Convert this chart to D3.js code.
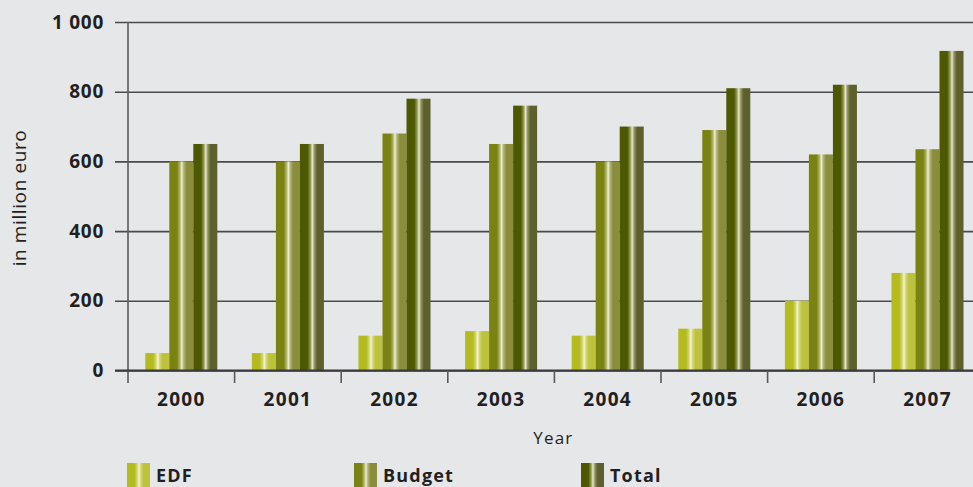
<!DOCTYPE html>
<html><head><meta charset="utf-8">
<script src="https://cdn.jsdelivr.net/npm/d3@7"></script>
<style>
html,body{margin:0;padding:0;background:#e6e7e9;}
svg{display:block;}
text{font-family:"Open Sans",sans-serif;fill:#231f20;}
</style></head><body>
<svg id="chart" width="973" height="487"></svg>
<script>
const categories = ["2000","2001","2002","2003","2004","2005","2006","2007"];
const seriesNames = ["EDF","Budget","Total"];
const edfValues = [50, 50, 100, 113, 100, 120, 200, 280];
const budgetValues = [600, 600, 680, 650, 600, 690, 620, 635];
const totalValues = [650, 650, 780, 760, 700, 810, 820, 917];
const yTicks = [0, 200, 400, 600, 800, 1000];
const yTickLabels = ["0", "200", "400", "600", "800", "1 000"];
const seriesColors = {
  EDF:    {base:"#b3bb1e", right:"#bcc23c", hi:"#f6f3cf"},
  Budget: {base:"#7a8212", right:"#8a8d3c", hi:"#efeed2"},
  Total:  {base:"#4d5800", right:"#5d602c", hi:"#e9e8c8"}
};

const valuesBySeries = {EDF: edfValues, Budget: budgetValues, Total: totalValues};
const data = categories.map((c,i)=>({cat:c, vals: seriesNames.map(s=>({s, v: valuesBySeries[s][i]}))}));

const svg = d3.select("#chart");
const x0 = 128, step = 106.6;
const y = d3.scaleLinear().domain([0,1000]).range([370.5, 22]);
const x = d3.scaleBand().domain(categories).range([x0, x0 + step*categories.length]).paddingInner(0).paddingOuter(0);
const x1 = d3.scaleBand().domain(seriesNames).range([0, x.bandwidth()]).paddingInner(0).paddingOuter(0.72);

// gradients
const defs = svg.append("defs");
seriesNames.forEach(s=>{
  const c = seriesColors[s];
  const g = defs.append("linearGradient").attr("id","g-"+s).attr("x1","0").attr("x2","1").attr("y1","0").attr("y2","0");
  const stops = [
    [0, c.base],[0.32, c.base],
    [0.44, d3.interpolateRgb(c.base, c.hi)(0.45)],
    [0.52, c.hi],
    [0.6, d3.interpolateRgb(c.right, c.hi)(0.4)],
    [0.72, c.right],[1, c.right]
  ];
  stops.forEach(([o,col])=>g.append("stop").attr("offset",o).attr("stop-color",col));
});

// y axis with gridlines
const yAxis = d3.axisLeft(y).tickValues(yTicks).tickSize(0).tickPadding(24)
  .tickFormat((d,i)=>yTickLabels[i]);
const yg = svg.append("g").attr("transform",`translate(${x0},0)`).call(yAxis);
yg.select(".domain").remove();
yg.selectAll(".tick line").attr("x1",-13).attr("x2",973-x0).attr("stroke","#4a4a4c").attr("stroke-width",1.6);
yg.selectAll(".tick text").attr("font-size",19).attr("font-weight",700).attr("fill","#231f20")
  .attr("font-family","'Open Sans',sans-serif").style("letter-spacing","0.7px");

// vertical y axis line
svg.append("line").attr("x1",x0).attr("x2",x0).attr("y1",y(1000)).attr("y2",383)
  .attr("stroke","#5a5a5c").attr("stroke-width",1.6);

// bars
const groups = svg.append("g").selectAll("g").data(data).join("g")
  .attr("transform",d=>`translate(${x(d.cat)},0)`);
groups.selectAll("rect").data(d=>d.vals).join("rect")
  .attr("x",d=>x1(d.s)).attr("width",x1.bandwidth())
  .attr("y",d=>y(d.v)).attr("height",d=>y(0)-y(d.v))
  .attr("fill",d=>`url(#g-${d.s})`);

// baseline
svg.append("line").attr("x1",115).attr("x2",973).attr("y1",y(0)).attr("y2",y(0))
  .attr("stroke","#3a3a3c").attr("stroke-width",1.8);

// x axis labels
const xAxis = d3.axisBottom(x).tickSize(0).tickPadding(22);
const xg = svg.append("g").attr("transform",`translate(0,${y(0)})`).call(xAxis);
xg.select(".domain").remove();
xg.selectAll(".tick text").attr("font-size",19).attr("font-weight",700).attr("fill","#231f20")
  .attr("font-family","'Open Sans',sans-serif").style("letter-spacing","1.3px");
// category separator ticks
svg.append("g").selectAll("line").data(categories).join("line")
  .attr("x1",d=>x(d) + x.step()).attr("x2",d=>x(d) + x.step())
  .attr("y1",y(0)).attr("y2",383).attr("stroke","#5a5a5c").attr("stroke-width",1.6);

// axis titles
svg.append("text").attr("x",(x0 + x0 + step*8)/2 - 1).attr("y",444).attr("text-anchor","middle")
  .attr("font-size",17).style("letter-spacing","1.2px").attr("fill","#333").text("Year");
svg.append("text").attr("transform","translate(26,198) rotate(-90)").attr("text-anchor","middle")
  .attr("font-size",19).style("letter-spacing","0.6px").attr("fill","#333").text("in million euro");

// legend
const legendX = [127, 354, 581];
const lg = svg.append("g").selectAll("g").data(seriesNames).join("g")
  .attr("transform",(d,i)=>`translate(${legendX[i]},463)`);
lg.append("rect").attr("width",23).attr("height",26).attr("fill",d=>`url(#g-${d})`);
lg.append("text").attr("x",29).attr("y",18.5).attr("font-size",18).attr("font-weight",700)
  .style("letter-spacing","1.2px").text(d=>d);
</script>
</body></html>
